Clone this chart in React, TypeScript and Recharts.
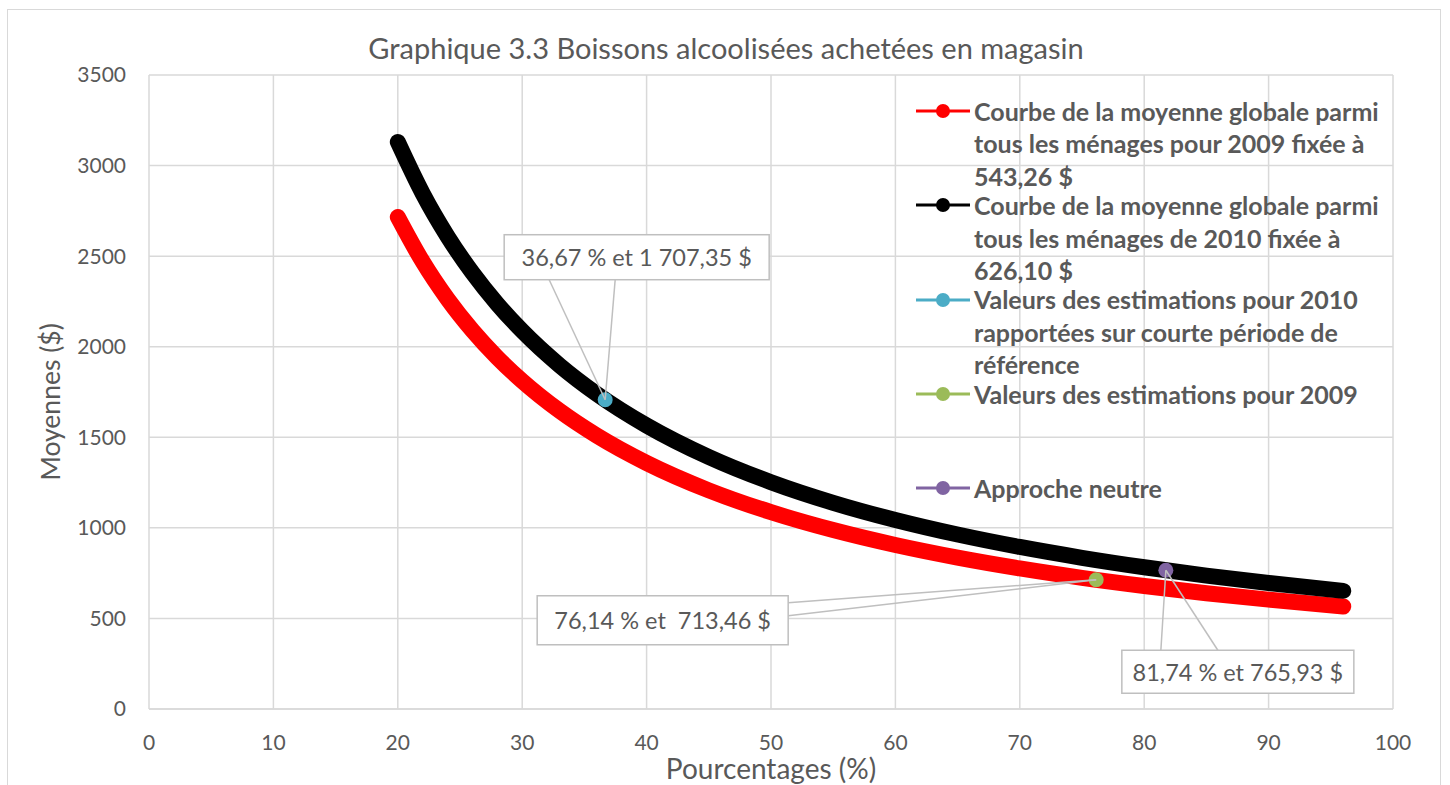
import React from 'react';
import { ComposedChart, Line, Scatter, XAxis, YAxis, CartesianGrid, Label } from 'recharts';

// ---- Data ----
const curvePct = [20, 22, 24, 26, 28, 30, 33, 36, 40, 45, 50, 55, 60, 65, 70, 75, 80, 85, 90, 96];
const curve2009 = [2716.3, 2469.4, 2263.6, 2089.5, 1940.2, 1810.9, 1646.2, 1509.1, 1358.2, 1207.2, 1086.5, 987.7, 905.4, 835.8, 776.1, 724.3, 679.1, 639.1, 603.6, 565.9];
const curve2010 = [3130.5, 2845.9, 2608.8, 2408.1, 2236.1, 2087.0, 1897.3, 1739.2, 1565.3, 1391.3, 1252.2, 1138.4, 1043.5, 963.2, 894.4, 834.8, 782.6, 736.6, 695.7, 652.2];

const pointPct = [36.67, 76.14, 81.74];
const pointValues = [1707.35, 713.46, 765.93];
const pointLabels = ['36,67 % et 1 707,35 $', '76,14 % et  713,46 $', '81,74 % et 765,93 $'];

const xTicks = [0, 10, 20, 30, 40, 50, 60, 70, 80, 90, 100];
const yTicks = [0, 500, 1000, 1500, 2000, 2500, 3000, 3500];

const titleText = 'Graphique 3.3 Boissons alcoolisées achetées en magasin';
const xAxisTitle = 'Pourcentages (%)';
const yAxisTitle = 'Moyennes ($)';

const legendLines = [
  ['Courbe de la moyenne globale parmi', 'tous les ménages pour 2009 fixée à', '543,26 $'],
  ['Courbe de la moyenne globale parmi', 'tous les ménages de 2010 fixée à', '626,10 $'],
  ['Valeurs des estimations pour 2010', 'rapportées sur courte période de', 'référence'],
  ['Valeurs des estimations pour 2009'],
  ['Approche neutre'],
];

// ---- Styles ----
const seriesColors = ['#ff0000', '#000000', '#4bacc6', '#9bbb59', '#8064a2'];
const pointColors = [seriesColors[2], seriesColors[3], seriesColors[4]];
const FONT = 'Lato, "Open Sans", sans-serif';
const TEXT = '#595959';
const GRID = '#d9d9d9';

// callout layout: pixel offsets relative to the marker
const calloutLayout = [
  { box: [-101, -165, 265, 45], wedge: [[-56, -120], [10, -120]] },
  { box: [-559, 16, 251, 49], wedge: [[-308, 23], [-308, 36]] },
  { box: [-44, 80, 232, 43], wedge: [[-5, 80], [52, 80]] },
];

const data2009 = curvePct.map((x, i) => ({ x, y: curve2009[i] }));
const data2010 = curvePct.map((x, i) => ({ x, y: curve2010[i] }));
const pointData = pointPct.map((x, i) => [{ x, y: pointValues[i] }]);

const makeShape = (i: number) => (props: any) => {
  const { cx, cy } = props;
  if (cx == null || cy == null) return <g />;
  const L = calloutLayout[i];
  const [bx, by, bw, bh] = L.box;
  return (
    <g>
      <circle cx={cx} cy={cy} r={7.5} fill={pointColors[i]} />
      {L.wedge.map((w, k) => (
        <line key={k} x1={cx + w[0]} y1={cy + w[1]} x2={cx} y2={cy} stroke="#bfbfbf" strokeWidth={1.5} />
      ))}
      <rect x={cx + bx} y={cy + by} width={bw} height={bh} fill="#ffffff" stroke="#bfbfbf" strokeWidth={1.5} />
      <text
        x={cx + bx + bw / 2}
        y={cy + by + bh / 2}
        textAnchor="middle"
        dominantBaseline="central"
        fontFamily={FONT}
        fontSize={23.5}
        fill={TEXT}
        style={{ whiteSpace: 'pre' }}
      >
        {pointLabels[i]}
      </text>
    </g>
  );
};

const legendIconY0 = 111;
const legendStep = 94.3;
const legendLineH = 32.5;

export default function App() {
  return (
    <div style={{ position: 'absolute', left: 0, top: 0, width: 1450, height: 785, background: '#fff', overflow: 'hidden' }}>
      <div style={{ position: 'absolute', left: 7, top: 9, width: 1434, height: 790, border: `1.5px solid ${GRID}`, boxSizing: 'border-box' }} />
      <ComposedChart width={1450} height={785} margin={{ top: 75, right: 57, bottom: 0, left: 0 }}>
        <CartesianGrid stroke={GRID} strokeWidth={1.5} />
        <XAxis
          type="number"
          dataKey="x"
          domain={[0, 100]}
          ticks={xTicks}
          height={76}
          tickLine={false}
          tickSize={0}
          tickMargin={26}
          axisLine={{ stroke: GRID, strokeWidth: 1.5 }}
          tick={{ fill: TEXT, fontSize: 21, fontFamily: FONT }}
          allowDataOverflow
        >
          <Label
            content={(p: any) => {
              const vb = p.viewBox;
              return (
                <text x={vb.x + vb.width / 2} y={779} textAnchor="middle" fontFamily={FONT} fontSize={28} fill={TEXT}>
                  {xAxisTitle}
                </text>
              );
            }}
          />
        </XAxis>
        <YAxis
          type="number"
          dataKey="y"
          domain={[0, 3500]}
          ticks={yTicks}
          width={149}
          tickLine={false}
          axisLine={false}
          tickSize={0}
          tickMargin={23}
          tick={{ fill: TEXT, fontSize: 21, fontFamily: FONT }}
        >
          <Label
            content={(p: any) => {
              const vb = p.viewBox;
              const cy = vb.y + vb.height / 2 + 10;
              return (
                <text x={50} y={cy} transform={`rotate(-90, 50, ${cy})`} textAnchor="middle" dominantBaseline="central" fontFamily={FONT} fontSize={26.5} fill={TEXT}>
                  {yAxisTitle}
                </text>
              );
            }}
          />
        </YAxis>
        <Line data={data2009} dataKey="y" type="monotone" stroke={seriesColors[0]} strokeWidth={16} strokeLinecap="round" strokeLinejoin="round" dot={false} activeDot={false} isAnimationActive={false} />
        <Line data={data2010} dataKey="y" type="monotone" stroke={seriesColors[1]} strokeWidth={16} strokeLinecap="round" strokeLinejoin="round" dot={false} activeDot={false} isAnimationActive={false} />
        {pointData.map((d, i) => (
          <Scatter key={i} data={d} dataKey="y" fill={pointColors[i]} shape={makeShape(i)} isAnimationActive={false} />
        ))}
      </ComposedChart>
      <div style={{ position: 'absolute', left: 0, width: 1450, top: 30, textAlign: 'center', fontFamily: FONT, fontSize: 29, lineHeight: '36px', color: TEXT }}>
        <span style={{ position: 'relative', left: 1 }}>{titleText}</span>
      </div>
      {legendLines.map((lines, i) => {
        const cy = legendIconY0 + i * legendStep;
        return (
          <div key={i}>
            <svg style={{ position: 'absolute', left: 914, top: cy - 10 }} width={60} height={20}>
              <line x1={2} y1={10} x2={56} y2={10} stroke={seriesColors[i]} strokeWidth={3} />
              <circle cx={29} cy={10} r={7} fill={seriesColors[i]} />
            </svg>
            {lines.map((t, k) => (
              <div
                key={k}
                style={{
                  position: 'absolute',
                  left: 974,
                  top: cy - legendLineH / 2 + k * legendLineH,
                  height: legendLineH,
                  lineHeight: `${legendLineH}px`,
                  fontFamily: FONT,
                  fontWeight: 700,
                  fontSize: 25,
                  color: TEXT,
                  whiteSpace: 'nowrap',
                }}
              >
                {t}
              </div>
            ))}
          </div>
        );
      })}
    </div>
  );
}
